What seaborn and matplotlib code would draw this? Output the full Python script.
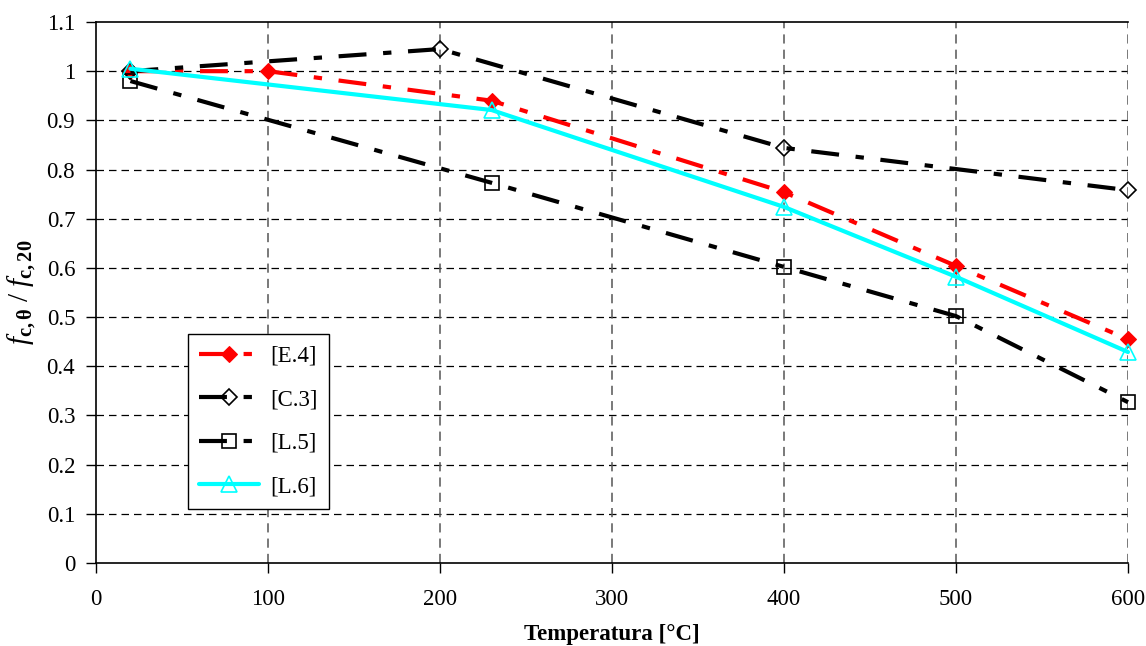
import matplotlib
matplotlib.use("Agg")
import matplotlib.pyplot as plt
import seaborn as sns
import pandas as pd
from matplotlib.ticker import FuncFormatter

# ---- data ----
e4_x = [20, 100, 230, 400, 500, 600]
e4_y = [1.00, 1.00, 0.94, 0.754, 0.604, 0.455]
c3_x = [20, 200, 400, 600]
c3_y = [1.00, 1.045, 0.844, 0.758]
l5_x = [20, 230, 400, 500, 600]
l5_y = [0.98, 0.773, 0.602, 0.502, 0.327]
l6_x = [20, 230, 400, 500, 600]
l6_y = [1.005, 0.921, 0.724, 0.582, 0.429]
labels = ["[E.4]", "[C.3]", "[L.5]", "[L.6]"]
x_ticks = [0, 100, 200, 300, 400, 500, 600]
y_ticks = [0, 0.1, 0.2, 0.3, 0.4, 0.5, 0.6, 0.7, 0.8, 0.9, 1.0, 1.1]

sns.set_theme(style="white")
plt.rcParams["font.family"] = ["Liberation Serif", "DejaVu Serif"]
plt.rcParams["text.color"] = "black"
plt.rcParams["axes.labelcolor"] = "black"
plt.rcParams["mathtext.fontset"] = "custom"
plt.rcParams["mathtext.rm"] = "Liberation Serif"
plt.rcParams["mathtext.it"] = "Liberation Serif:italic"
plt.rcParams["mathtext.bf"] = "Liberation Serif:bold"

FS = 16.5

fig = plt.figure(figsize=(11.46, 6.46), dpi=100)
ax = fig.add_axes([96 / 1146, 1 - 563 / 646, (1128 - 96) / 1146, (563 - 22) / 646])

dashdot = (0, (6.7, 4.0, 2.0, 4.0))
series = [
    (e4_x, e4_y, labels[0], dict(color="#ff0000", linestyle=dashdot, linewidth=3.0,
                                 marker="D", markersize=8.5, markerfacecolor="#ff0000",
                                 markeredgecolor="#ff0000")),
    (c3_x, c3_y, labels[1], dict(color="black", linestyle=dashdot, linewidth=3.0,
                                 marker="D", markersize=8.5, markerfacecolor="none",
                                 markeredgecolor="black", markeredgewidth=1.2)),
    (l5_x, l5_y, labels[2], dict(color="black", linestyle=dashdot, linewidth=3.0,
                                 marker="s", markersize=10, markerfacecolor="none",
                                 markeredgecolor="black", markeredgewidth=1.2)),
    (l6_x, l6_y, labels[3], dict(color="#00ffff", linestyle="-", linewidth=3.0,
                                 marker="^", markersize=12, markerfacecolor="none",
                                 markeredgecolor="#00ffff", markeredgewidth=1.2)),
]
for xs, ys, lab, kw in series:
    df = pd.DataFrame({"x": xs, "y": ys})
    sns.lineplot(data=df, x="x", y="y", ax=ax, label=lab, clip_on=False, **kw)

ax.set_xlim(0, 600)
ax.set_ylim(0, 1.1)
ax.set_xticks(x_ticks)
ax.set_yticks(y_ticks)
ax.yaxis.set_major_formatter(FuncFormatter(lambda v, p: "%g" % round(v, 2)))

ax.grid(False)
for yv in y_ticks[1:-1]:
    ax.axhline(yv, color="black", linestyle=(0, (6, 4)), linewidth=0.9, zorder=0)
for xv in x_ticks[1:]:
    ax.axvline(xv, color="#555555", linestyle=(0, (6, 4)), linewidth=1.1, zorder=0)

for s in ["left", "bottom", "top"]:
    ax.spines[s].set_visible(True)
    ax.spines[s].set_color("black")
    ax.spines[s].set_linewidth(1.2)
ax.spines["right"].set_visible(False)

ax.tick_params(axis="both", direction="out", length=7, width=1, color="black",
               labelsize=FS, labelcolor="black", bottom=True, left=True)
ax.tick_params(axis="y", pad=8)
ax.tick_params(axis="x", pad=12)

ax.set_xlabel("Temperatura [°C]", fontsize=FS, fontweight="bold", labelpad=10)
ax.set_ylabel(r"$\mathit{f}_{\mathbf{c,\theta}}\ /\ \mathit{f}_{\mathbf{c,20}}$",
              fontsize=21, labelpad=6)

leg = ax.legend(loc="upper left", bbox_to_anchor=(0.089, 0.423), fontsize=FS,
                frameon=True, fancybox=False, shadow=False, edgecolor="black",
                handlelength=2.6, labelspacing=0.98, borderpad=0.5, handletextpad=0.5,
                borderaxespad=0)
leg.get_frame().set_linewidth(1.0)
leg.get_frame().set_facecolor("white")
leg.get_frame().set_alpha(1)
for t in leg.get_texts():
    t.set_color("black")

fig.savefig("out.png", dpi=100)
